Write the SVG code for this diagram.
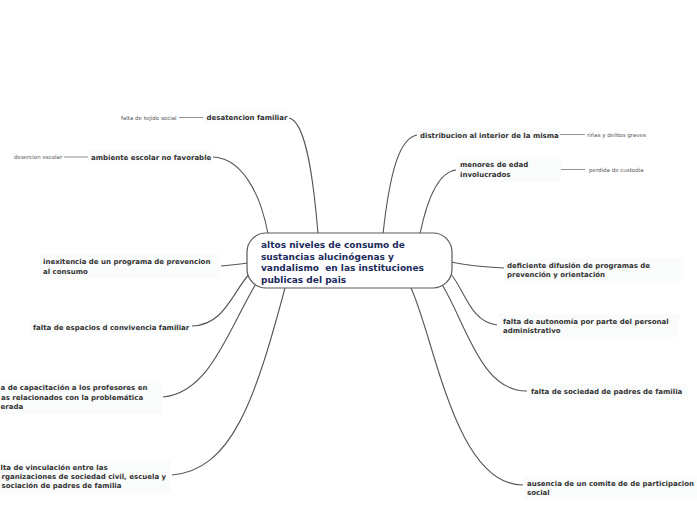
<svg xmlns="http://www.w3.org/2000/svg" width="697" height="520" viewBox="0 0 697 520">
<style>
.bg{fill:#ffffff}
.box{fill:#fafbfb}
.main{fill:#ffffff;stroke:#5a5a5a;stroke-width:1.2}
.mt{font-family:"DejaVu Sans",Verdana,sans-serif;font-weight:bold;font-size:9px;fill:#1b2a5c}
.t{font-family:"DejaVu Sans",Verdana,sans-serif;font-weight:bold;font-size:7px;fill:#333333}
.s{font-family:"DejaVu Sans",Verdana,sans-serif;font-size:5.5px;fill:#555555}
.c{fill:none;stroke:#555555;stroke-width:1.1}
.l{fill:none;stroke:#777777;stroke-width:0.8}
</style>
<rect class="bg" x="0" y="0" width="697" height="520"/>
<g id="connectors">
<path class="c" d="M289,118 C303,121 312,160 318,234"/>
<path class="c" d="M213,157 C240,158 260,190 268,234"/>
<path class="c" d="M417,135 C400,138 390,170 383,234"/>
<path class="c" d="M456,170 C440,172 428,195 420,234"/>
<path class="c" d="M221,266 C232,265 240,264 248,263"/>
<path class="c" d="M192,326 C225,325 232,292 251,272"/>
<path class="c" d="M163,397 C210,393 228,330 257,282"/>
<path class="c" d="M172,475 C232,470 255,400 285,288"/>
<path class="c" d="M451,262 C470,266 485,267 504,268"/>
<path class="c" d="M450,273 C465,290 470,322 497,325"/>
<path class="c" d="M441,283 C465,320 480,392 527,391"/>
<path class="c" d="M411,288 C435,340 455,485 523,485"/>
<path class="l" d="M179,117.5 H203"/>
<path class="l" d="M64,157 H88"/>
<path class="l" d="M560,134.5 H585"/>
<path class="l" d="M561,169.5 H585"/>
</g>
<g id="center">
<rect class="main" x="247" y="233" width="205" height="55" rx="19"/>
<text class="mt" x="261" y="248">altos niveles de consumo de</text>
<text class="mt" x="261" y="259.5">sustancias alucinógenas y</text>
<text class="mt" x="261" y="271" xml:space="preserve">vandalismo  en las instituciones</text>
<text class="mt" x="261" y="282.5">publicas del pais</text>
</g>
<g id="n-desatencion">
<rect class="box" x="203" y="111" width="86" height="13"/>
<text class="t" x="206.5" y="120">desatencion familiar</text>
</g>
<g id="n-tejido">
<text class="s" x="121" y="119.5">falta de tejido social</text>
</g>
<g id="n-ambiente">
<rect class="box" x="88" y="150" width="124" height="13"/>
<text class="t" x="91" y="159.5">ambiente escolar no favorable</text>
</g>
<g id="n-desercion">
<text class="s" x="14" y="159">desercion escolar</text>
</g>
<g id="n-distribucion">
<rect class="box" x="417" y="128" width="143" height="13"/>
<text class="t" x="420" y="137.5">distribucion al interior de la misma</text>
</g>
<g id="n-rinas">
<text class="s" x="587" y="136.5">riñas y delitos graves</text>
</g>
<g id="n-menores">
<rect class="box" x="457" y="157" width="104" height="25"/>
<text class="t" x="460" y="167">menores de edad</text>
<text class="t" x="460" y="177">involucrados</text>
</g>
<g id="n-custodia">
<text class="s" x="589" y="171.5">perdida de custodia</text>
</g>
<g id="n-inexitencia">
<rect class="box" x="40" y="254" width="180" height="24"/>
<text class="t" x="43" y="264">inexitencia de un programa de prevencion</text>
<text class="t" x="43" y="273.5">al consumo</text>
</g>
<g id="n-espacios">
<rect class="box" x="30" y="320" width="161" height="13"/>
<text class="t" x="33" y="329.5">falta de espacios d convivencia familiar</text>
</g>
<g id="n-capacitacion">
<rect class="box" x="0" y="381" width="162" height="33"/>
<text class="t" x="0.5" y="390">a de capacitación a los profesores en</text>
<text class="t" x="1" y="399.5">as relacionados con la problemática</text>
<text class="t" x="0.5" y="409">erada</text>
</g>
<g id="n-vinculacion">
<rect class="box" x="0" y="460" width="171" height="33"/>
<text class="t" x="0.5" y="470">lta de vinculación entre las</text>
<text class="t" x="1.5" y="479">rganizaciones de sociedad civil, escuela y</text>
<text class="t" x="1.5" y="488">sociación de padres de familia</text>
</g>
<g id="n-deficiente">
<rect class="box" x="504" y="258" width="180" height="23"/>
<text class="t" x="507" y="267.5">deficiente difusión de programas de</text>
<text class="t" x="507" y="276.5">prevención y orientación</text>
</g>
<g id="n-autonomia">
<rect class="box" x="499" y="314" width="180" height="23"/>
<text class="t" x="503" y="324">falta de autonomía por parte del personal</text>
<text class="t" x="503" y="333">administrativo</text>
</g>
<g id="n-sociedad">
<rect class="box" x="528" y="384" width="160" height="14"/>
<text class="t" x="531" y="393.5">falta de sociedad de padres de familia</text>
</g>
<g id="n-ausencia">
<rect class="box" x="524" y="476" width="173" height="23"/>
<text class="t" x="527" y="485.5">ausencia de un comite de de participacion</text>
<text class="t" x="527" y="494.5">social</text>
</g>
</svg>
